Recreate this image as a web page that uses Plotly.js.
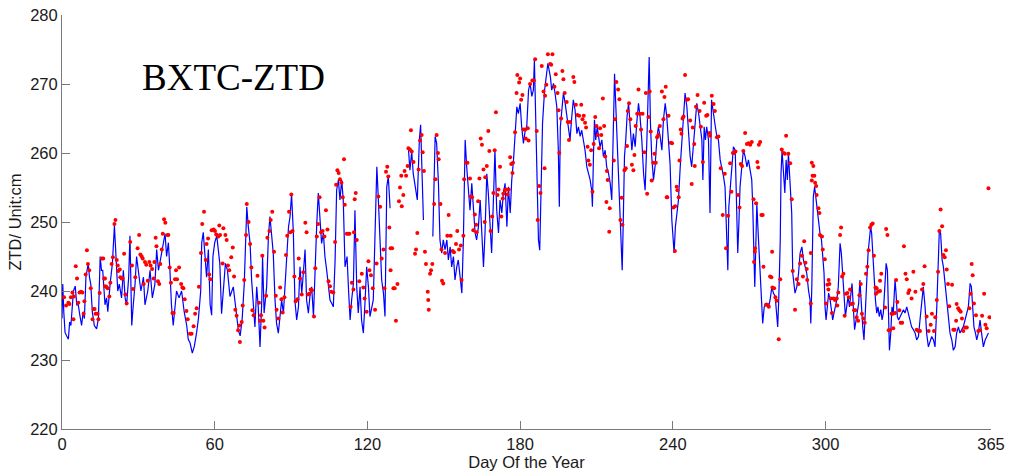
<!DOCTYPE html>
<html>
<head>
<meta charset="utf-8">
<script src="https://cdn.plot.ly/plotly-3.0.1.min.js"></script>
<style>html,body{margin:0;padding:0;background:#fff;}#chart{width:1012px;height:471px;}</style>
</head>
<body>
<div id="chart"></div>
<script>
// Continuous ZTD series (blue line), day of year and value in cm (null = data gap)
var blueDay = [0,0.3,0.7,1.2,1.8,2.5,3,3.5,4.5,5.2,5.8,6.4,7,7.7,8.3,8.8,9.4,10.3,10.8,11.3,11.9,12.7,13.6,14.3,15,15.5,16,16.9,17.5,18,18.9,19.8,20.6,21.2,21.9,22.5,23.4,24.1,24.8,25.4,26.2,26.7,27.4,28,28.7,29.3,30,31,32,32.6,33.7,34.6,35.5,36.5,37.2,37.9,38.9,39.8,40.5,41.1,41.8,42.4,43,43.7,44.4,45,46,47,48,49,49.6,50.3,51.2,52,52.9,53.6,54.5,54.9,55.5,56.2,56.8,57.5,58.2,58.8,59.3,60,60.8,61.4,62,
62.7,63.5,64.2,65,66,67.3,68.6,69.3,70,70.8,71.6,72.6,73.2,73.9,74.5,75.2,75.8,76.5,77.1,77.8,78.5,78.8,79.4,80.4,81.1,81.7,82.4,83,83.7,84.3,85,85.7,86.3,87,87.6,88.3,89,89.6,90.2,90.9,91.5,92.2,92.9,93.5,94.2,94.8,95.5,96.1,96.8,97.4,98.1,98.8,99.4,100.1,100.7,101.4,102,102.7,103.3,104,104.6,105.3,106,106.6,107.3,107.9,108.6,109.2,109.9,110.5,111.2,112,112.6,113.2,113.8,114.5,115.1,115.8,116.4,117.1,117.7,118.4,119.1,119.7,120.4,121,122.3,123.7,124.3,125,125.6,126.3,126.9,127.6,128.2,128.9,
132,136.1,136.7,137.4,138,139.6,140.4,140.9,141.5,142,143.5,145.7,146.6,147.2,147.9,148.5,149.2,149.8,150.5,151.2,151.8,152.5,153.1,153.8,154.4,155.1,155.7,156.4,157.1,157.7,158.4,159,159.7,160.3,161,161.6,162.3,162.9,163.6,164.3,164.9,165.6,166.2,166.9,167.5,168.2,168.8,169.5,170.1,170.8,171.5,172.1,172.8,173.4,174.1,174.8,175.4,176.1,176.7,177.4,178,178.7,179.3,180,180.6,181.3,182,182.6,183.3,183.9,184.6,185.2,185.6,186.1,186.7,187.2,187.7,188.2,188.8,189.6,190.3,190.9,191.4,191.9,192.4,193.1,193.7,194.4,195,195.4,195.8,196.4,197,197.7,198.3,199,199.6,200.3,200.9,201.6,202.3,202.9,203.6,204.2,204.9,205.5,206.2,206.8,207.5,208.1,208.4,208.8,209.2,209.7,210.3,210.8,211.4,212.1,212.7,213.4,214,214.7,215.4,216,216.7,217.1,217.6,218.1,218.6,219.3,219.7,220.1,220.5,221,221.5,222,222.6,223.2,223.9,224.5,225.2,225.8,226.5,227.1,227.8,228.5,229.1,229.8,230.2,230.7,231.2,231.7,232.4,233,233.7,234.3,235,235.7,236.3,237,237.6,238.3,238.9,239.6,240,240.5,241,241.5,242.2,242.9,243.5,244.2,244.8,245.5,246.1,246.8,247.4,248.1,248.8,249.4,250.1,250.7,251.4,251.8,252.3,252.8,253.3,254,254.6,255.2,255.7,256.2,256.7,257.3,257.9,258.6,259.2,259.9,260.5,260.9,261.2,261.6,262,262.5,263.2,263.8,264.5,265.1,265.5,266,266.4,267.1,267.7,268.4,269.1,269.7,270.4,271,271.4,271.7,271.9,272.2,272.6,273,273.4,273.9,274.3,275,275.3,275.9,276.7,277.6,278.2,278.9,279.5,280.2,280.8,281.2,281.6,282.2,282.5,282.9,283.5,284,284.5,285,285.4,286.1,286.7,287.1,287.4,288,288.7,289.4,290,290.7,291.3,292,292.6,293.3,293.9,294.2,294.6,295.2,295.7,296.3,296.8,297.3,297.8,298.4,298.9,299.4,299.8,300.2,300.7,301.2,301.8,302.3,302.8,303.3,303.9,304.4,305,305.4,305.7,306.2,306.7,307.3,307.8,308.3,308.8,309.4,309.9,310.4,310.9,311.4,312,312.5,313,313.5,314.1,314.6,315.1,315.6,316.2,316.7,317.2,317.7,318.1,318.5,319,319.6,320.1,320.6,321.1,321.7,322.2,322.7,323.2,323.8,324.3,324.7,325.1,325.6,326.1,326.6,327.3,327.7,328.2,328.7,329.3,329.9,330.6,331.2,331.9,332.5,333.2,333.8,334.5,335.2,335.8,336.5,337.1,337.8,338.4,339.1,339.7,340.4,341.1,341.7,342.4,343,343.7,344.2,344.7,345.2,345.8,346.3,346.8,347.3,347.9,348.4,348.9,349.6,350.2,350.9,351.5,352.2,352.8,353.5,354.1,354.8,355.5,356.1,356.8,357.3,357.8,358.3,358.9,359.4,360,360.7,361.3,362,362.7,363.3,364];
var blueZtd = [236,241,237,234,233.5,233,235.5,235,240,240.7,238,238,236.5,235,237,236,242,244,242,241,237,235,234.5,236,245,243,243,238,239,237,241,244,249.5,244,240,241,239,243,239,238,242,248,235,238,241,245,243,240,242,238,240,243,239,241,246,243,245,247,248.3,245,247,243,238,235,238,240,239,240,237,235,233,232.5,231,232,234,236,240,247,248.5,245,242,246,238,236.5,245,247,248,246,244,
236.7,240,244,243,239.2,240.6,235.8,234.3,233.5,236,241,252.2,249.3,246.9,241.6,237.7,234.8,240.6,237.7,231.9,238.7,245,236.8,240.6,247.9,250.8,247.4,245.5,238.7,235.3,233.9,236.8,238.7,236.8,240.6,245.5,249.3,250.8,254,248.4,238.7,235.8,237.7,243.5,239.7,242.5,246,238.7,236.8,239.2,240.6,236.3,243.5,249.8,254.2,249.3,246.9,248.4,245,243,240.6,238.7,238.2,237.7,244.5,254.6,256.1,253.2,256.1,253.2,243.5,245,240,235.8,238.7,241.1,251.7,240.6,236.8,240.6,235.8,233.9,238.7,243.5,240.6,236.3,238.7,258,253.2,246,241.6,239.7,236.3,255.1,256.6,252,
null,260.7,257.5,260.2,257,253.2,261.9,264.1,258,250.3,null,247.9,262.4,261.4,255.6,247.4,245.5,247.4,246,247.4,244.5,246.4,243.5,245,241.6,243.5,244.5,242.1,239.7,247.4,261.9,258,255.1,251.7,255.6,251.7,248.4,247.4,249.3,253.2,249.3,243.5,248.4,257,254.2,249.3,245.5,253.2,260.4,251.7,248.4,253.2,251.3,254.2,255.6,249.3,255.1,251.3,256.1,259,263.3,266.7,265.7,267.2,263.8,261.4,263.3,263.8,269.1,270.1,268.2,269.1,273.5,264.3,252.2,247.4,245.9,254.6,264.3,269.1,271.5,273,272,271,269.1,270.1,268.7,266.7,260.4,252.2,263.8,266.7,268.7,267.2,265.7,263.8,261.9,265.3,267.7,266.2,262.8,263.8,262.4,263.3,261.9,260.4,258,257.1,256.1,254.6,252.2,259.5,264.8,261.9,263.8,262.4,260.9,261.9,259.5,260.4,258,257.1,255.6,253.2,264.3,271.5,266.7,261.9,259.5,251.3,246.4,243,249.8,259.5,261.9,265.3,267.2,263.8,260.4,262.8,260.9,264.3,267.2,265.3,261.9,257,254.6,261.9,266.7,273.9,264.3,259.5,256.1,258,261.9,263.8,262.4,260.4,264.8,267.2,265.3,261.9,258.5,250.3,247.4,245.5,249.3,251.3,253.2,258,261.9,266.7,268.7,266.7,262.8,259.5,258,260.9,264.3,267.2,265.8,263.8,261.9,256.1,263.8,261.9,263.8,261.9,251.3,267.7,266.2,265.3,263.8,262.4,261.9,259,258,256.6,255.1,251.3,246.4,243,252.2,255.1,258,260.9,260.4,251.3,245.5,250.3,255.1,258,260.4,259.5,258,259,257,256.1,252.2,249.3,244.5,240.6,247.4,252.7,249.3,245,241.6,237.7,235.3,237.7,238.2,237.7,238.7,240.6,239.7,239.2,236.8,234.8,238.7,247.4,257,260.4,257,254.2,259,256.1,260,256.1,251.3,242.6,241.6,239.7,240.6,242.6,245.5,246.4,244.5,243.5,242.6,240.1,238.7,235.3,240.6,253.7,255.1,253.2,251.3,250.3,248.4,247.4,245.5,242.6,237.7,235.8,237.7,239.7,238.7,236.8,235.8,236.8,237.7,238.7,240.6,244.5,246.9,245.5,242.1,237.7,236.3,237.7,239.2,237.7,239.7,241.1,237.7,234.4,235.8,236.8,238.2,241.6,236.8,234.8,232.9,237.7,242.6,245.5,247.4,249.3,248.4,246.4,242.6,238.7,236.8,237.7,236.3,237.3,235.8,236.8,239.7,244,243,234.3,231.4,233.9,237.7,236.8,241.6,239.7,236.3,235.8,236.3,236.8,237.3,236.8,237.7,236.8,235.8,234.8,234.4,233.9,232.9,233.4,235.8,238.7,240.6,237.7,233.9,231.9,232.9,233.4,232.9,231.9,237.7,243.5,248.8,248.4,244.5,243.5,241.6,239.2,237.7,235.8,233.9,232.9,231.4,231.9,233.9,234.8,233.9,234.4,234.8,235.8,236.8,237.7,241.1,240.6,237.7,234.8,233.9,232.9,233.9,235.8,233.9,231.9,232.9,233.4,233.9];

// Discrete ZTD estimates (red dots)
var redDay = [0.8,1.6,2.5,2.9,3.5,4.1,4.5,4.7,5.4,5.9,6.4,6.9,7.5,8,8.5,8.8,9.3,9.8,10.2,10.7,11.3,12,12.4,12.8,13.2,14,14.3,14.8,15.7,16.2,16.5,16.9,16.9,17.4,17.9,18.6,19,19.5,20,20.6,21,21.5,21.9,22.1,22.7,22.9,23.4,23.8,24.4,24.9,25.4,26.8,27.5,27.9,28.8,29.7,30.3,30.8,31.3,31.7,32.1,32.6,33.1,33.7,34.3,34.8,35.4,36,36.3,36.8,37.1,37.7,38.2,38.6,39.2,39.6,40.1,40.6,41.4,41.8,42.3,42.8,43.4,43.9,44.4,44.8,45.2,46,46.8,47.3,47.7,48.2,48.9,49.4,50.3,50.9,51.7,52.3,52.9,53.8,54.6,55.1,55.8,56.5,56.8,57.4,57.8,58.3,58.8,59.6,60.1,60.6,61.4,61.8,
62.1,63.1,63.4,64.2,64.7,65.2,65.7,66.5,67.1,67.6,68.1,68.6,69.2,69.7,69.9,70.6,71,71.6,72.3,72.6,73.3,73.9,74.4,74.8,75.3,76.8,77.4,77.8,78.2,78.7,79.1,79.6,80.2,80.7,81.5,82,82.6,83.3,84,84.3,85,85.7,86.2,86.7,87.4,88,88.5,89.2,89.7,90.1,90.6,91.3,91.8,92.5,93,93.5,94.2,94.8,95.6,96.1,96.6,97.2,97.7,98.2,99,99.5,100.1,100.6,101.2,101.8,102.4,103.1,103.7,104.3,104.7,105.3,105.8,106.6,107.3,107.7,108.2,108.7,109.2,109.8,110.3,110.8,111.1,111.9,112.4,112.9,113.4,113.9,114.5,114.7,115,115.4,115.8,116.8,
117.8,118.4,118.9,119.7,120.4,120.8,121.4,122.1,123,123.6,124.3,125,125.6,126.3,126.7,127.3,127.8,128.2,128.6,129.1,129.7,129.1,130.2,130.7,131.2,131.8,132.4,132.8,133.5,134.1,133.3,134.6,135.2,135.8,136.1,136.7,137.4,138.1,137.1,139.6,139.1,138.7,140.1,140.7,141.3,141.7,142.2,142.6,143,143.7,143.9,144.1,144.6,145,145.5,146.2,146.7,147.2,147.7,148,148.7,149.1,149.3,149.8,150.5,151.4,151.9,152.7,153.5,154,154.8,155.3,156,156.7,157,157.7,158,158.8,159.3,160.3,160.6,161.1,161.6,162.2,162.7,162.9,163.5,164,164.5,165,165.6,166.1,166.3,166.9,167.5,167.9,168.4,169,169.5,170,170.5,171.1,171.5,172.1,172.6,173.2,173.4,174,174.5,175,175.5,
176.1,176.5,177.2,177,178,178.6,178.9,179.6,180,180.4,180.9,181.3,182,182.2,183,183.3,183.9,184.8,185.4,185.9,186.5,186.9,187.5,188,188.5,189.2,189.6,189.8,190.3,190.9,191.8,192.2,192.7,193.5,194,194.7,195.1,195.4,196.1,196.6,197,197.5,198.3,198.7,199.2,199.6,200.9,201.3,201.9,202.5,203.2,204,204.5,205,205.5,205.9,206.5,206.8,207.4,207.9,208.4,208.9,209.5,210,210.5,211,211.4,211.9,212.5,213,213.4,214.1,214.4,213.9,215.2,215,216.8,217.3,217.8,218.5,219,219.9,219.4,220.2,221,221.5,222,222.3,222.8,223.3,223.9,224.5,224.9,225.4,226,226.5,227,227.5,228.1,228.8,229.4,229.9,230.4,230.9,231.3,231.7,232.3,232.8,233.3,233.8,234.3,234.9,235.7,236.3,236.7,237.2,237.8,238.3,
239.2,239.7,237.6,240.2,240.9,241.5,241.8,242.3,240.8,242.6,243.1,243.4,243.8,244.2,244.8,245.5,246,246.8,247.4,247.8,248.4,248.6,249.1,249.7,250.5,251,251.8,252.3,253.1,253.6,254.4,254.6,255.3,256,256.5,257.3,257.9,258.8,259.6,260.4,260.9,261.7,262.5,263,263.6,264.1,264.6,265.6,266.2,266.7,267.2,267.7,268.4,269.1,269.7,270.4,271,273.8,274.3,273.2,273.5,271.7,272.7,274.8,275.3,272.3,272.2,271.9,275.6,276.6,277.2,277.7,278.2,278.7,279.1,279.8,280.3,280.8,279,281.6,282.2,282.8,283.5,284,284.5,285.4,286.1,286.7,287.1,288,288.7,289.4,290,290.7,291.1,291.6,292.1,292.6,292.8,
294.2,294.2,294.6,295.2,294.9,295.6,294.6,295.9,296.3,296.5,297.2,297.6,297.8,298.6,298.9,299.7,301.2,300.7,301.5,300.2,301.1,302,302.5,303.1,303.7,304.4,304.6,305,305.7,306.1,306.5,307,307.5,308,308.6,309.1,309.6,310.1,310.7,311.2,311.7,312.2,312.8,313.3,313.8,314.3,314.9,315.4,315.9,316.4,316.9,317.5,318,318.5,319,319.6,320.1,320.6,319.8,321.4,321.9,321.4,323.4,323.8,324.3,324.8,325.3,325.9,326.4,326.6,327.3,327.7,328.2,329,329.5,330.1,330.8,331.4,331.9,332.5,332.9,333.8,334.5,335.3,335.8,336.5,337.1,337.9,338.4,338.9,339.7,340.5,341.3,341.8,342.6,343.1,343.7,344.2,344.7,345.2,345.8,346.3,346.8,347.3,347.6,348.1,348.6,349.7,350.2,350.7,351.3,351.5,352.1,352.6,353.1,353.6,354.1,354.8,355.5,356.5,357,357.4,357.8,358.3,359.1,360,360.7,361.5,362.3,362.8,363.3,364,364.4];
var redZtd = [239.1,237.9,238.3,238.1,239.1,239.8,235.9,239.2,243.6,241.8,238.3,239.8,239.9,239.8,236.7,238.5,242.4,245.9,243.9,243,240.4,235.9,237.4,237.4,236.7,236.7,235.9,239.7,244.7,244.7,241.8,241.8,240.7,240.6,240.4,239.2,241.2,243.9,244.9,249.7,250.3,244.5,243.7,242.9,243.1,242,241.8,241.8,245.4,239.5,238.2,247.1,243.7,240.3,242,246.2,248.1,245.3,245,244.7,241,244.2,243.8,241.5,244.2,243.7,243.2,241.8,244.2,247.7,246.5,241.4,241,243.9,246,248.3,250.4,249.9,248.1,248.1,243.4,241.2,236.8,236.8,241.7,243,241.7,243.4,241,240.5,240.4,238.8,237.1,235.9,233.8,233.8,234.9,236.7,237.5,240.6,245.5,249.7,251.5,244.5,246.8,247.6,242.4,241.7,248.8,248.9,248.7,248.2,247.9,249.5,
248.1,244,249.1,248.1,247.4,243.7,243,244.9,246.3,242.1,237.3,236.4,234.3,235,232.6,235.5,237.9,241.6,248.1,252.6,250,246.8,243.4,237.2,236.5,242.2,238.3,235.7,236.5,245.1,235.7,234.7,239.3,247.7,248.7,250.3,251.5,245.7,239.3,237.3,236,240.5,238.8,236.9,239.1,245.2,248,251.5,248.5,254,248.7,242.1,238.5,238.8,244.7,241.8,239.5,242.7,249.9,248.5,239.5,239.6,240.2,240.1,236.3,243.3,247.9,249.7,253.6,248.5,248.7,247.9,251.7,248.9,241.4,240.7,239.9,239.8,247.1,255.4,257.5,257.1,256.2,255.7,253.6,259.1,252.5,248.3,248.3,248.3,237.7,241.2,240.2,248.5,253.3,254.2,247.4,241.4,
242.5,240.5,238.9,237,244.3,243,242.3,240.4,237.3,244,253.7,252.2,244.7,246,240.4,257.3,258,256.6,249.2,246.2,246.2,243,240.4,240.4,235.7,241,253,255,252.3,253.9,256.7,257.4,256.7,258.1,260.7,260.5,260.2,258.7,263.3,248.4,246,245.4,257.6,261.8,262.6,260.1,257.4,245.7,243.9,239.9,238.7,237.3,242.5,243,243.9,252.6,256.2,262.6,260,259.1,252.6,246,241.5,241.1,245.5,248,251,248,245.8,245.6,246.8,248.7,246,246.6,241.6,248,256.2,258.6,258.6,256.3,253.7,253.6,248.8,251.1,249.6,248.5,253,256.3,262.1,261.2,257.6,250,256.5,258.1,263.2,260.3,248.7,250.8,254.2,260.4,265.9,253.9,254.7,258,250.8,253.4,254.1,254.6,254.7,254,254.7,
259.4,258.4,258.6,257.1,263,268.7,271.3,270.2,270.8,267.7,268.4,263.4,263.4,262.1,263.6,261.8,270,270.5,270.5,273.6,263.2,250.3,255.2,254.2,272.6,268.9,257.8,268.3,269.9,274.3,272.9,272.8,274.3,269.6,271.4,268.7,266.2,260,265,271.9,270.7,268.7,267.4,264.5,261.9,264.5,271,270.3,267,265.5,265.4,267,264.9,265.4,264.4,263.7,260.9,258.9,258.3,260.4,254.4,261.3,265.2,263.9,262.6,260.7,263.6,262.6,267.9,263.9,259.5,257.4,256.1,252.9,252,248.6,258.9,264.9,270.3,269.2,267.8,253.5,250.3,249.6,257.5,257.8,261,266.1,267.2,264.9,258.3,257.5,259.7,263.9,265.7,269.2,265.7,263.4,265.7,260.1,268.7,254.1,265.2,268.9,263.1,256,258.6,259.9,258.6,262.3,262.6,263.9,268.9,264.9,268.1,269.6,253.6,265.4,
261.5,261.4,253.6,252.1,252.3,255.1,254.6,253.6,245.8,258.9,263.4,262.8,265,265.3,271.3,267.7,267.8,264.7,255.5,263.7,261.3,258.1,266.7,268.4,266.1,263.8,258.7,267.3,265.4,265.5,262.9,262.5,268.3,267.1,266.1,262.3,262.4,257.8,251,257,246.2,250.9,258.5,254.4,260,260,260.2,253.9,252.1,258.4,258.1,260.3,262.9,261.3,261.4,261.2,261.6,261.2,261.6,258.7,257.9,253.3,252.7,251,251,246.2,245.7,244.2,243.5,238,238,237.7,242.1,242,240.5,240.4,239.1,238.6,245.7,233,241.7,260.5,260,259.9,262.5,259.9,258.5,253.3,242.9,237.3,241.7,241,244,245.1,242.1,247.2,244.1,243.2,241.6,
245.5,238.2,258.6,258.1,256.7,256.7,256,255.7,255.2,253.9,252,251.3,248.1,247.9,246,244.6,241.6,240.9,241,238.2,240.2,238.9,236.8,238.9,238.7,238.9,237.9,239.8,248.1,249.2,242.1,242.5,236.4,239.6,239.7,239.1,240.2,238.1,238.2,237.2,237.2,236.2,235.7,239.4,241,236.7,236,235.4,242.5,243.5,245.9,249.2,249.6,249.8,245.1,240.5,240.4,239.9,239.6,241.5,242.5,240,237.6,249,248.1,234.3,234.3,236.7,236.7,234.6,236.8,241.6,238.4,237.2,235.4,235.4,246.5,242.5,241.7,239.7,240.1,238.9,242.8,239.9,234.4,234.2,234.2,240.2,241,243.6,236.3,234.2,235.1,236.7,234.2,236.2,238.7,242.8,248.7,251.8,249.4,245.2,244.9,245.9,243.1,241,237.8,240.9,234.4,234.4,235.7,238.1,237.5,237.2,237,236,234.2,234.7,234.7,237.5,239.6,243.9,242.3,238.2,236.5,234.2,234.3,236.4,239.6,235.1,234.6,254.9,236.2];

var xTickVals = [0, 60, 120, 180, 240, 300, 365];
var xTickText = ['0', '60', '120', '180', '240', '300', '365'];
var yTickVals = [220, 230, 240, 250, 260, 270, 280];
var chartLabel = 'BXTC-ZTD';

var traces = [
  {x: blueDay, y: blueZtd, type: 'scatter', mode: 'lines', connectgaps: false,
   line: {color: '#0000ff', width: 1.2}, hoverinfo: 'skip'},
  {x: redDay, y: redZtd, type: 'scatter', mode: 'markers',
   marker: {color: '#ff0000', size: 4, line: {width: 0}}, hoverinfo: 'skip'}
];

var axisFont = {family: 'Liberation Sans, Arial, sans-serif', size: 16.5, color: '#1a1a1a'};

var layout = {
  width: 1012, height: 471,
  margin: {l: 62, r: 21, t: 15, b: 42, pad: 0},
  paper_bgcolor: '#ffffff', plot_bgcolor: '#ffffff',
  showlegend: false,
  xaxis: {
    range: [0, 365], tickmode: 'array', tickvals: xTickVals, ticktext: xTickText,
    ticks: 'inside', ticklen: 8, tickcolor: '#7a7a7a', tickwidth: 1,
    showline: true, linecolor: '#7a7a7a', linewidth: 1, mirror: false,
    showgrid: false, zeroline: false, tickfont: axisFont,
    title: {text: 'Day Of the Year', font: axisFont, standoff: 0}
  },
  yaxis: {
    range: [220, 280], tickmode: 'array', tickvals: yTickVals,
    ticks: 'inside', ticklen: 8, tickcolor: '#7a7a7a', tickwidth: 1,
    showline: true, linecolor: '#7a7a7a', linewidth: 1, mirror: false,
    showgrid: false, zeroline: false, tickfont: axisFont,
    title: {text: 'ZTD/ Unit:cm', font: axisFont, standoff: 4}
  },
  annotations: [{
    text: chartLabel, xref: 'paper', yref: 'paper', x: 0.084, y: 0.849,
    xanchor: 'left', yanchor: 'middle', showarrow: false,
    font: {family: 'Liberation Serif, Times New Roman, serif', size: 37, color: '#000000'}
  }]
};

Plotly.newPlot('chart', traces, layout, {displayModeBar: false, staticPlot: true});
</script>
</body>
</html>
